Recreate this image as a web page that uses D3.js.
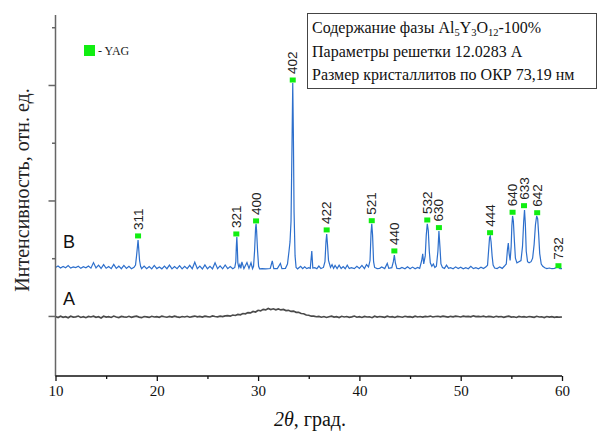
<!DOCTYPE html>
<html>
<head>
<meta charset="utf-8">
<script src="https://cdn.jsdelivr.net/npm/d3@7"></script>
<style>
  body { margin: 0; background: #fff; }
  svg { display: block; }
</style>
</head>
<body>
<svg id="chart"></svg>
<script>
// Curve B (crystalline sample): [2theta, intensity]
let curveB = [
  [10.0, 420], [10.25, 432], [10.5, 415], [10.75, 428], [11.0, 418], [11.25, 436], [11.5, 414], [11.75, 425],
  [12.0, 419], [12.25, 430], [12.5, 412], [12.75, 426], [13.0, 417], [13.25, 433], [13.5, 414], [13.75, 462],
  [14.0, 416], [14.25, 440], [14.5, 411], [14.75, 445], [15.0, 413], [15.25, 428], [15.5, 410], [15.75, 446],
  [16.0, 412], [16.25, 431], [16.5, 409], [16.75, 438], [17.0, 411], [17.25, 430], [17.5, 409], [17.75, 421],
  [17.9, 440], [18.0, 520], [18.1, 610], [18.15, 658], [18.2, 600], [18.3, 480], [18.4, 430], [18.5, 410],
  [18.75, 432], [19.0, 409], [19.25, 428], [19.5, 408], [19.75, 437], [20.0, 410], [20.25, 424], [20.5, 408],
  [20.75, 432], [21.0, 409], [21.25, 440], [21.5, 407], [21.75, 427], [22.0, 410], [22.25, 436], [22.5, 408],
  [22.75, 429], [23.0, 409], [23.25, 438], [23.5, 408], [23.75, 465], [24.0, 409], [24.25, 431], [24.5, 407],
  [24.75, 442], [25.0, 409], [25.25, 430], [25.5, 408], [25.75, 460], [26.0, 409], [26.25, 433], [26.5, 408],
  [26.75, 441], [27.0, 410], [27.25, 428], [27.5, 409], [27.7, 420], [27.8, 470], [27.85, 600], [27.9, 684],
  [27.95, 590], [28.0, 460], [28.1, 420], [28.2, 445], [28.3, 412], [28.4, 468], [28.6, 410], [28.9, 462],
  [29.1, 412], [29.3, 460], [29.45, 410], [29.55, 430], [29.65, 560], [29.75, 760], [29.8, 797], [29.85, 740],
  [29.95, 560], [30.05, 430], [30.15, 408], [30.4, 410], [30.75, 408], [31.2, 411], [31.4, 476], [31.55, 409],
  [31.9, 410], [32.2, 455], [32.35, 409], [32.7, 412], [32.9, 450], [33.05, 560], [33.15, 641], [33.25, 820],
  [33.35, 1500], [33.42, 2017], [33.48, 1600], [33.55, 900], [33.65, 520], [33.75, 420], [33.9, 408], [34.2, 430],
  [34.4, 409], [34.6, 425], [34.8, 410], [35.0, 418], [35.15, 412], [35.3, 563], [35.4, 415], [35.6, 418],
  [35.8, 409], [36.0, 432], [36.2, 410], [36.45, 420], [36.6, 470], [36.7, 640], [36.77, 710], [36.85, 620],
  [36.95, 480], [37.05, 450], [37.15, 420], [37.3, 445], [37.45, 412], [37.6, 438], [37.8, 410], [38.0, 440],
  [38.2, 411], [38.4, 428], [38.6, 409], [38.8, 440], [39.0, 411], [39.2, 418], [39.5, 410], [39.75, 430],
  [40.0, 412], [40.25, 438], [40.5, 410], [40.7, 445], [40.9, 425], [41.05, 480], [41.15, 720], [41.22, 797],
  [41.3, 700], [41.4, 470], [41.5, 420], [41.75, 410], [42.0, 412], [42.2, 424], [42.5, 410], [42.75, 455],
  [42.9, 412], [43.2, 418], [43.35, 470], [43.45, 528], [43.55, 460], [43.7, 412], [44.0, 410], [44.2, 420],
  [44.5, 408], [44.75, 425], [45.0, 409], [45.25, 423], [45.5, 408], [45.75, 420], [45.95, 412], [46.15, 480],
  [46.25, 537], [46.35, 450], [46.5, 520], [46.6, 700], [46.7, 797], [46.8, 740], [46.9, 560], [47.0, 460],
  [47.15, 430], [47.3, 450], [47.45, 420], [47.6, 430], [47.75, 560], [47.85, 736], [47.95, 600], [48.05, 450],
  [48.2, 420], [48.4, 412], [48.6, 440], [48.8, 412], [49.0, 418], [49.25, 409], [49.5, 425], [49.75, 410],
  [50.0, 422], [50.25, 409], [50.5, 418], [50.75, 409], [51.0, 430], [51.25, 410], [51.5, 418], [51.75, 409],
  [52.0, 422], [52.25, 410], [52.5, 425], [52.65, 440], [52.75, 560], [52.85, 680], [52.92, 693], [53.0, 640],
  [53.1, 520], [53.2, 440], [53.35, 415], [53.6, 410], [53.85, 425], [54.1, 412], [54.3, 430], [54.5, 450],
  [54.62, 580], [54.7, 632], [54.78, 540], [54.88, 480], [54.98, 600], [55.05, 780], [55.12, 866], [55.2, 820],
  [55.3, 650], [55.4, 500], [55.55, 460], [55.75, 470], [55.95, 480], [56.1, 600], [56.22, 820], [56.3, 918],
  [56.38, 800], [56.47, 560], [56.6, 470], [56.75, 460], [56.95, 470], [57.1, 500], [57.25, 620], [57.38, 790],
  [57.5, 866], [57.6, 840], [57.7, 700], [57.8, 540], [57.95, 450], [58.1, 430], [58.3, 418], [58.5, 410],
  [58.75, 415], [59.0, 409], [59.25, 412], [59.45, 420], [59.6, 424], [59.8, 410], [60.0, 409]
];

// Curve A (amorphous sample): intensity every 0.25 deg from 10 to 60
let curveAStart = 10;
let curveAStep = 0.25;
let curveA = [
  -5, -14, -2, -12, -6, -16, -3, -10, -8, -1,
  -13, -6, -15, -4, -9, -2, -12, -7, -17, -3,
  -10, -6, -13, -1, -9, -14, -4, -8, -11, -3,
  -12, -6, -2, -10, -15, -5, -8, -13, -3, -9,
  -6, -12, -1, -7, -11, -4, -10, -2, -8, -13,
  -5, -9, -3, -11, -6, -1, -8, -4, -10, -2,
  -6, -9, 0, -5, -8, -2, -6, 1,
  2, -2, 8, 4, 13, 10, 21, 18, 29, 26,
  39, 34, 49, 44, 57, 52, 65, 56, 62, 53,
  60, 52, 56, 46, 49, 39, 42, 31, 32, 21,
  19, 8, 6, -2, -1, -7, -4,
  -11, -5, -13, -7, -2, -10, -6, -14, -3, -9,
  -5, -12, -8, -1, -11, -6, -13, -4, -9, -7,
  -15, -3, -10, -5, -8, -12, -2, -9, -6, -13,
  -4, -7, -11, -3, -8, -6, -12, -2, -9, -5,
  -10, -4, -7, -1, -9, -5, -3, -8, -2, -6,
  -10, -3, -7, -1, -5, -9, -2, -6, -4, -8,
  1, -5, -3, -7, -2, -9, -4, -6, -11, -3,
  -8, -5, -12, -6, -2, -10, -7, -13, -4, -9,
  -6, -11, -5, -8, -12, -3, -9, -7, -14, -5,
  -10, -6, -12, -8, -11, -9
];

// YAG reflections: hkl, 2theta, marker intensity
let peakHkl = ['311', '321', '400', '402', '422', '521', '440', '532', '630', '444', '640', '633', '642', '732'];
let peakPos = [18.15, 27.85, 29.8, 33.42, 36.77, 41.22, 43.45, 46.7, 47.85, 52.9, 55.12, 56.25, 57.55, 59.65];
let peakMark = [693, 710, 823, 2043, 745, 825, 563, 831, 765, 721, 898, 955, 894, 435];

// Axis ticks
let xTicks = [10, 20, 30, 40, 50, 60];
let xMinorTicks = [15, 25, 35, 45, 55];
let yTicks = [0, 1000, 2000];
let yMinorTicks = [500, 1500, 2500];

// Info box lines
let infoLines = [
  [['Содержание фазы Al', false], ['5', true], ['Y', false], ['3', true], ['O', false], ['12', true], ['-100%', false]],
  [['Параметры решетки 12.0283 А', false]],
  [['Размер кристаллитов по ОКР 73,19 нм', false]]
];

let svgWidth = 598;
let svgHeight = 433;

let svg = d3.select('#chart')
  .attr('width', svgWidth)
  .attr('height', svgHeight);

let xScale = d3.scaleLinear().domain([10, 60]).range([55.5, 562]);
let yScale = d3.scaleLinear().domain([-520, 2606]).range([376, 15]);

let serif = 'Liberation Serif';
let sans = 'Liberation Sans';

// Curves
let line = d3.line()
  .x(d => xScale(d[0]))
  .y(d => yScale(d[1]));

svg.append('path')
  .datum(curveA.map((v, i) => [curveAStart + i * curveAStep, v]))
  .attr('d', line)
  .attr('fill', 'none')
  .attr('stroke', '#4a4a4a')
  .attr('stroke-width', 1.7);

svg.append('path')
  .datum(curveB)
  .attr('d', line)
  .attr('fill', 'none')
  .attr('stroke', '#2d6fcc')
  .attr('stroke-width', 1.2);

// Markers and hkl labels
peakPos.forEach((p, i) => {
  let cx = xScale(p);
  let cy = yScale(peakMark[i]);
  svg.append('rect')
    .attr('x', cx - 3)
    .attr('y', cy - 2.5)
    .attr('width', 6)
    .attr('height', 5)
    .attr('fill', '#11ee11');
  svg.append('text')
    .attr('transform', 'translate(' + (cx + 4.5) + ',' + (cy - 6) + ') rotate(-90)')
    .attr('font-family', sans)
    .attr('font-size', '13.5px')
    .attr('fill', '#222')
    .text(peakHkl[i]);
});

// Left axis
let yAxis = d3.axisLeft(yScale).tickValues(yTicks).tickSize(7).tickFormat('');
let yAxisMinor = d3.axisLeft(yScale).tickValues(yMinorTicks).tickSize(3.5).tickFormat('');

let gy = svg.append('g').attr('transform', 'translate(55.5,0)').call(yAxis);
let gym = svg.append('g').attr('transform', 'translate(55.5,0)').call(yAxisMinor);
gym.select('.domain').remove();
gy.select('.domain').attr('d', 'M0,' + yScale.range()[0] + 'V' + yScale.range()[1]);
gy.selectAll('.domain, line').attr('stroke', '#666').attr('stroke-width', 1.5);
gym.selectAll('line').attr('stroke', '#666').attr('stroke-width', 1.5);

// Bottom axis
let xAxis = d3.axisBottom(xScale).tickValues(xTicks).tickSize(5).tickPadding(4).tickFormat(d3.format('d'));
let xAxisMinor = d3.axisBottom(xScale).tickValues(xMinorTicks).tickSize(3).tickFormat('');

let gx = svg.append('g').attr('transform', 'translate(0,376)').call(xAxis);
gx.select('.domain').attr('d', 'M' + xScale.range()[0] + ',0H' + xScale.range()[1]);
let gxm = svg.append('g').attr('transform', 'translate(0,376)').call(xAxisMinor);
gxm.select('.domain').remove();
gx.selectAll('.domain, line').attr('stroke', '#111').attr('stroke-width', 1.3);
gxm.selectAll('line').attr('stroke', '#111').attr('stroke-width', 1.3);
gx.attr('font-family', serif).attr('font-size', 15);
gx.selectAll('text').attr('fill', '#111');

// Axis titles
svg.append('text')
  .attr('transform', 'translate(29,190) rotate(-90)')
  .attr('text-anchor', 'middle')
  .attr('font-family', serif)
  .attr('font-size', '20px')
  .attr('fill', '#222')
  .text('Интенсивность, отн. ед.');

let xTitle = svg.append('text')
  .attr('x', 310)
  .attr('y', 426)
  .attr('text-anchor', 'middle')
  .attr('font-family', serif)
  .attr('font-size', '20px')
  .attr('fill', '#111');
xTitle.append('tspan').attr('font-style', 'italic').text('2θ');
xTitle.append('tspan').text(', град.');

// Curve labels
svg.append('text')
  .attr('x', 63).attr('y', 248)
  .attr('font-family', sans).attr('font-size', '18px').attr('fill', '#111')
  .text('B');
svg.append('text')
  .attr('x', 63).attr('y', 305)
  .attr('font-family', sans).attr('font-size', '18px').attr('fill', '#111')
  .text('A');

// Legend
svg.append('rect')
  .attr('x', 84).attr('y', 45).attr('width', 11).attr('height', 11)
  .attr('fill', '#11ee11');
svg.append('text')
  .attr('x', 98).attr('y', 55)
  .attr('font-family', serif).attr('font-size', '12px').attr('fill', '#222')
  .text('- YAG');

// Info box
svg.append('rect')
  .attr('x', 307.5).attr('y', 13.5).attr('width', 289).attr('height', 75)
  .attr('fill', '#fff')
  .attr('stroke', '#444')
  .attr('stroke-width', 1);

infoLines.forEach((parts, i) => {
  let t = svg.append('text')
    .attr('x', 312)
    .attr('y', 33 + i * 23.5)
    .attr('font-family', serif)
    .attr('font-size', '16px')
    .attr('fill', '#111');
  parts.forEach(([s, sub]) => {
    let ts = t.append('tspan').text(s);
    if (sub) ts.attr('font-size', '10.5px').attr('baseline-shift', '-3');
  });
});
</script>
</body>
</html>
